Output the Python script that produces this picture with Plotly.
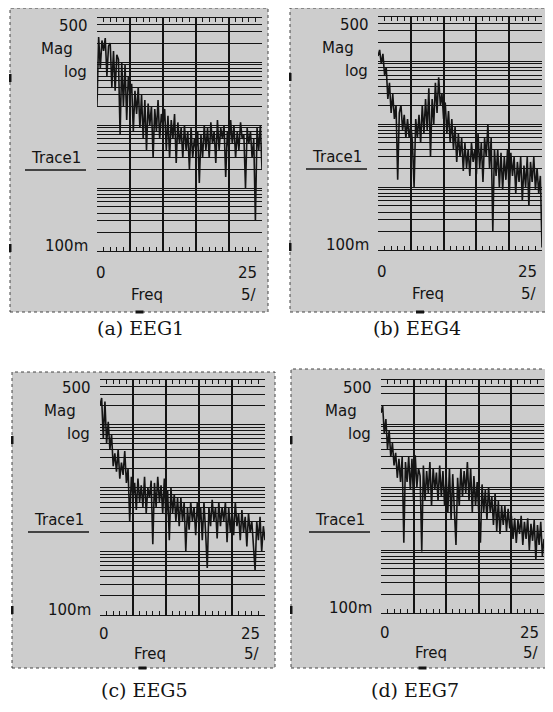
import plotly.graph_objects as go
import math

# page has an 8px body margin: build the figure 8px smaller and shifted
OFF = 8
W, H = 553 - OFF, 712 - OFF

# ---------------- data ----------------
FREQ = [0, 0.25, 0.5, 0.75, 1, 1.25, 1.5, 1.75, 2, 2.25, 2.5, 2.75, 3, 3.25, 3.5, 3.75,
        4, 4.25, 4.5, 4.75, 5, 5.25, 5.5, 5.75, 6, 6.25, 6.5, 6.75, 7, 7.25, 7.5, 7.75,
        8, 8.25, 8.5, 8.75, 9, 9.25, 9.5, 9.75, 10, 10.25, 10.5, 10.75, 11, 11.25, 11.5, 11.75,
        12, 12.25, 12.5, 12.75, 13, 13.25, 13.5, 13.75, 14, 14.25, 14.5, 14.75, 15, 15.25, 15.5, 15.75,
        16, 16.25, 16.5, 16.75, 17, 17.25, 17.5, 17.75, 18, 18.25, 18.5, 18.75, 19, 19.25, 19.5, 19.75,
        20, 20.25, 20.5, 20.75, 21, 21.25, 21.5, 21.75, 22, 22.25, 22.5, 22.75, 23, 23.25, 23.5, 23.75,
        24, 24.25, 24.5, 24.75, 25]

EEG1 = [20, 250, 80, 220, 150,
        240, 60, 180, 200,
        40, 150, 35, 130,
        110, 7, 100, 20,
        90, 12, 60, 30,
        45, 8, 35, 15,
        40, 9, 30, 6,
        25, 4, 22, 10,
        20, 3, 18, 8,
        25, 6, 15, 10,
        18, 4, 14, 3,
        12, 6, 15, 2.5,
        11, 5, 9, 3,
        10, 4, 8, 2,
        9, 3, 6, 4,
        8, 1.2, 7, 3,
        10, 4, 9, 3,
        11, 5, 8, 2.5,
        12, 4, 9, 6,
        10, 1.5, 8, 4,
        12, 5, 10, 3,
        8, 4, 11, 6,
        7, 1, 9, 5,
        8, 3, 6, 0.3,
        9, 4, 10, 2]

EEG4 = [120, 150, 90, 130, 60,
        80, 25, 45, 15,
        30, 12, 20, 1.3,
        15, 20, 8, 14,
        6, 12, 6, 10,
        5, 1.0, 12, 6,
        14, 5, 20, 7,
        25, 8, 37, 3,
        25, 10, 45, 15,
        55, 20, 30, 12,
        22, 7, 16, 5,
        12, 4, 9, 2.5,
        7, 3, 6, 1.8,
        5, 2, 4, 1.5,
        5, 2.5, 4, 1.6,
        7, 2, 5, 1.2,
        6, 3, 10, 2,
        6, 0.2, 4, 1.5,
        4, 1, 3.5, 0.9,
        3, 1.3, 4, 0.7,
        3.5, 1.5, 3, 0.8,
        2.5, 1.2, 3, 0.6,
        2.2, 1, 3, 0.5,
        2.5, 1.2, 3, 0.9,
        2, 0.8, 1.5, 0.11]

EEG5 = [200, 260, 60, 230, 50,
        110, 40, 70, 22,
        35, 18, 40, 14,
        25, 16, 38, 12,
        20, 3, 15, 7,
        12, 4.5, 14, 6,
        11, 5, 15, 4,
        10, 7, 13, 1.3,
        12, 5, 15, 6,
        11, 4, 14, 3,
        9, 1.5, 10, 4,
        8, 3, 7, 2.5,
        7, 3, 6, 1,
        5, 2.2, 6, 3,
        5, 1.8, 6, 2.5,
        5, 1.5, 6, 2,
        0.55, 5, 2.5, 6.5,
        3, 5, 1.6, 6,
        2.5, 5, 3, 6,
        1.4, 5, 2, 4.5,
        1.8, 6, 2.5, 4,
        1.5, 4.5, 2, 3.5,
        1.2, 4, 2, 3,
        1, 0.5, 3, 1.5,
        3.5, 1, 2.5, 1.5]

EEG7 = [150, 200, 70, 120, 40,
        80, 30, 50, 22,
        35, 14, 28, 12,
        30, 1.3, 25, 12,
        30, 9, 28, 6,
        32, 10, 20, 15,
        0.95, 22, 6, 18,
        8, 25, 5, 20,
        9, 17, 6, 22,
        7, 18, 5, 15,
        4, 20, 3, 16,
        3, 1.2, 14, 5,
        20, 7, 18, 8,
        25, 6, 20, 4,
        15, 5, 12, 4,
        1.3, 11, 4, 9,
        3, 10, 4, 7,
        2.5, 8, 2, 6,
        1.8, 5, 2.5, 5,
        2, 4.5, 2.2, 3.5,
        1.5, 3.2, 1.3, 3,
        1.8, 3.5, 1.2, 2.8,
        1.5, 3.2, 1, 2.6,
        1.4, 3, 0.7, 2.5,
        1.2, 2.8, 0.8, 1.5]

SERIES = [EEG1, EEG4, EEG5, EEG7]
CAPTIONS = ["(a) EEG1", "(b) EEG4", "(c) EEG5", "(d) EEG7"]
Y_TOP_LABEL = "500"
Y_BOTTOM_LABEL = "100m"
X_LEFT_LABEL = "0"
X_RIGHT_LABEL = "25"
X_TITLE = "Freq"
X_DIV_LABEL = "5/"
Y_MIN, Y_MAX = 0.1, 500
X_MIN, X_MAX = 0, 25

# ---------------- layout geometry (page pixels) ----------------
PANELS = [
    dict(plot=(97, 262, 18, 251), frame=(10, 268, 8, 312), cap=(140, 328), xl=(22, 44)),
    dict(plot=(378, 542, 17, 250), frame=(290, 547, 8, 312), cap=(417, 328), xl=(22, 44)),
    dict(plot=(100, 265, 380, 615), frame=(12, 275, 372, 668), cap=(144, 690), xl=(19, 39)),
    dict(plot=(381, 544, 380, 613), frame=(291, 552, 369, 668), cap=(415, 690), xl=(20, 40)),
]

BG = "#cdcdcd"
INK = "#141414"

def px(x):
    return (x - OFF) / W

def py(y):
    return 1 - (y - OFF) / H

ygrid = [d * 10 ** e for e in (-1, 0, 1) for d in range(1, 10)] + [100, 200, 300, 400, 500]

fig = go.Figure()
shapes = []
annotations = []
sans = "DejaVu Sans, Verdana, sans-serif"
serif = "DejaVu Serif, serif"

def ann(text, x, y, xanchor="center", size=15, font=sans):
    annotations.append(dict(text=text, x=px(x), y=py(y), xref="paper", yref="paper",
                            xanchor=xanchor, yanchor="middle", showarrow=False,
                            font=dict(family=font, size=size, color=INK)))

for k, (p, ys) in enumerate(zip(PANELS, SERIES)):
    n = "" if k == 0 else str(k + 1)
    xa, ya = "x" + n, "y" + n
    L, R, T, B = p["plot"]
    fL, fR, fT, fB = p["frame"]
    fig.add_trace(go.Scatter(x=FREQ, y=ys, mode="lines", xaxis=xa, yaxis=ya,
                             line=dict(color=INK, width=1.6), showlegend=False,
                             hoverinfo="skip"))
    fig.layout["xaxis" + n] = dict(
        domain=[px(L), px(R)], anchor=ya, range=[X_MIN, X_MAX],
        tickmode="array", tickvals=[5, 10, 15, 20], showticklabels=False,
        ticks="inside", ticklen=5, tickwidth=1, tickcolor=INK,
        showgrid=True, gridcolor=INK, gridwidth=2.2,
        minor=dict(dtick=1, tick0=0, ticks="inside", ticklen=4, tickwidth=1,
                   tickcolor=INK, showgrid=False),
        showline=True, linecolor=INK, linewidth=1, mirror="ticks",
        zeroline=False, fixedrange=True)
    fig.layout["yaxis" + n] = dict(
        domain=[py(B), py(T)], anchor=xa, type="log",
        range=[math.log10(Y_MIN), math.log10(Y_MAX)],
        tickmode="array", tickvals=ygrid, showticklabels=False, ticks="",
        showgrid=True, gridcolor=INK, gridwidth=1.4,
        showline=False, zeroline=False, fixedrange=True)

    shapes.append(dict(type="rect", xref="paper", yref="paper",
                       x0=px(fL), x1=px(fR), y0=py(fB), y1=py(fT),
                       fillcolor=BG, line=dict(color="#444", width=1, dash="dot"),
                       layer="below"))
    shapes.append(dict(type="line", xref="paper", yref="paper",
                       x0=px(L - 72), x1=px(L - 11), y0=py(T + 152), y1=py(T + 152),
                       line=dict(color=INK, width=1.5)))
    for yy in (T + 60, T + 230):
        shapes.append(dict(type="rect", xref="paper", yref="paper",
                           x0=px(fL - 1), x1=px(fL + 1.5), y0=py(yy + 4), y1=py(yy - 4),
                           fillcolor=INK, line=dict(width=0)))
    cx = (L + R) / 2 - 40
    shapes.append(dict(type="rect", xref="paper", yref="paper",
                       x0=px(cx - 4), x1=px(cx + 4), y0=py(fB + 1.5), y1=py(fB - 1.5),
                       fillcolor=INK, line=dict(width=0)))

    d1, d2 = p["xl"]
    ann(Y_TOP_LABEL, L - 7, T + 8, "right")
    ann("Mag", L - 40, T + 31)
    ann("log", L - 8, T + 54, "right")
    ann("Trace1", L - 41, T + 140)
    ann(Y_BOTTOM_LABEL, L - 7, B - 5, "right")
    ann(X_LEFT_LABEL, L + 4, B + d1)
    ann(X_RIGHT_LABEL, R - 3, B + d1, "right")
    ann(X_TITLE, L + 50, B + d2)
    ann(X_DIV_LABEL, R - 3, B + d2, "right")
    capx, capy = p["cap"]
    ann(CAPTIONS[k], capx, capy, size=19, font=serif)

fig.update_layout(width=W, height=H, margin=dict(l=0, r=0, t=0, b=0),
                  paper_bgcolor="white", plot_bgcolor=BG,
                  shapes=shapes, annotations=annotations, showlegend=False)

fig.write_html("out.html")
